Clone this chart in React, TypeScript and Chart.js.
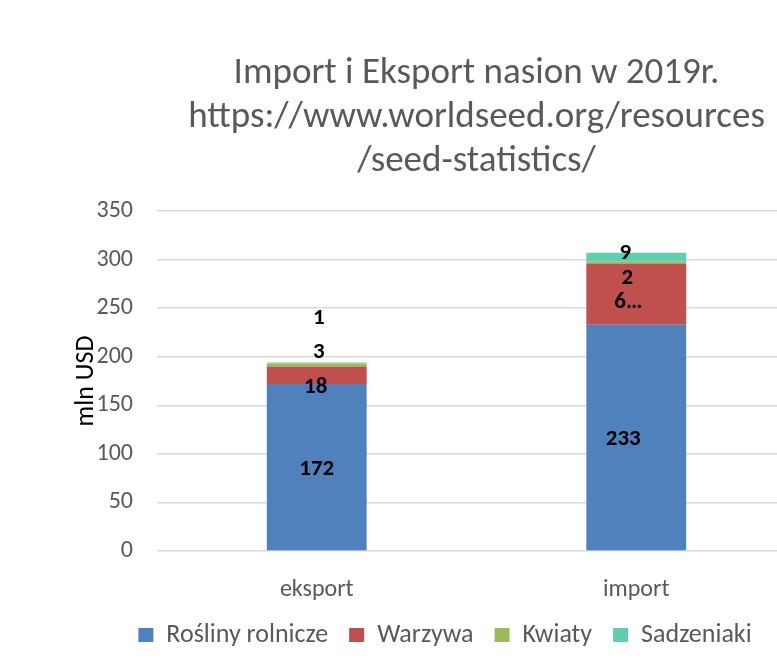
import React, { useEffect, useRef } from 'react';
import { Chart, registerables } from 'chart.js';
Chart.register(...registerables);

const categories = ['eksport', 'import'];
const seriesNames = ['Rośliny rolnicze', 'Warzywa', 'Kwiaty', 'Sadzeniaki'];
const roslinyRolnicze = [172, 233];
const warzywa = [18, 63];
const kwiaty = [3, 2];
const sadzeniaki = [1, 9];
const roslinyLabels = ['172', '233'];
const warzywaLabels = ['18', '6…'];
const kwiatyLabels = ['3', '2'];
const sadzeniakiLabels = ['1', '9'];
const yMin = 0;
const yMax = 350;
const yStep = 50;
const titleLines = ['Import i Eksport nasion w 2019r.', 'https://www.worldseed.org/resources', '/seed-statistics/'];
const yAxisTitle = 'mln USD';

// style
const FONT = 'Carlito, Lato, sans-serif';
const colors = ['#4F81BD', '#C0504D', '#9BBB59', '#5CCFB0'];
// label nudges (px) per series, per category
const labelNudges = [
  [{ dx: 0, dy: 2 }, { dx: -13, dy: 2 }],
  [{ dx: -1, dy: 12 }, { dx: -8, dy: 8 }],
  [{ dx: 2, dy: -13 }, { dx: -9, dy: 16 }],
  [{ dx: 2, dy: -45 }, { dx: -11, dy: -4 }],
];

export default function App() {
  const ref = useRef<HTMLCanvasElement | null>(null);
  useEffect(() => {
    if (!ref.current) return;
    const values = [roslinyRolnicze, warzywa, kwiaty, sadzeniaki];
    const texts = [roslinyLabels, warzywaLabels, kwiatyLabels, sadzeniakiLabels];
    const decor = {
      id: 'decor',
      afterDatasetsDraw(chart: any) {
        const ctx = chart.ctx;
        ctx.save();
        ctx.font = `bold 23px ${FONT}`;
        ctx.fillStyle = '#000';
        ctx.textAlign = 'center';
        ctx.textBaseline = 'middle';
        chart.data.datasets.forEach((_: any, i: number) => {
          const meta = chart.getDatasetMeta(i);
          meta.data.forEach((el: any, j: number) => {
            const p = el.getProps(['x', 'y', 'base'], true);
            const n = labelNudges[i][j];
            ctx.fillText(texts[i][j], p.x + n.dx, (p.y + p.base) / 2 + n.dy);
          });
        });
        ctx.restore();
      },
      afterDraw(chart: any) {
        const ctx = chart.ctx;
        const a = chart.chartArea;
        ctx.save();
        ctx.fillStyle = '#595959';
        ctx.font = `37px ${FONT}`;
        ctx.textAlign = 'center';
        ctx.textBaseline = 'middle';
        const cx = (a.left + a.right) / 2;
        titleLines.forEach((t, k) => ctx.fillText(t, cx, 74 + k * 44));
        ctx.translate(86, (a.top + a.bottom) / 2);
        ctx.rotate(-Math.PI / 2);
        ctx.fillStyle = '#000';
        ctx.font = `26px ${FONT}`;
        ctx.fillText(yAxisTitle, 0, 0);
        ctx.restore();
      },
    };
    const chart = new Chart(ref.current, {
      type: 'bar',
      data: {
        labels: categories,
        datasets: values.map((v, i) => ({
          label: seriesNames[i],
          data: v,
          backgroundColor: colors[i],
          borderWidth: 0,
          categoryPercentage: 1,
          barPercentage: 0.3125,
        })),
      },
      options: {
        responsive: false,
        animation: false,
        layout: { padding: { left: 94, right: 104, top: 211, bottom: 0 } },
        plugins: {
          title: { display: false },
          tooltip: { enabled: false },
          legend: {
            position: 'bottom',
            labels: {
              boxWidth: 15,
              boxHeight: 14,
              padding: 21,
              color: '#595959',
              font: { family: FONT, size: 26 },
            },
          },
        },
        scales: {
          x: {
            stacked: true,
            grid: { display: false },
            border: { display: false },
            ticks: { color: '#595959', font: { family: FONT, size: 24 }, padding: 17 },
            afterFit(s: any) { s.height = 50; },
          },
          y: {
            stacked: true,
            min: yMin,
            max: yMax,
            ticks: { stepSize: yStep, color: '#595959', font: { family: FONT, size: 24 }, padding: 24 },
            grid: { color: '#d9d9d9', lineWidth: 1.5, drawTicks: false },
            border: { display: false },
            afterFit(s: any) { s.width = 63; },
          },
        },
      },
      plugins: [decor],
    });
    return () => chart.destroy();
  }, []);
  return (
    <div style={{ position: 'absolute', left: 0, top: 0, width: 777, height: 658, overflow: 'hidden', background: '#fff' }}>
      <canvas ref={ref} width={900} height={658} style={{ width: 900, height: 658, display: 'block' }} />
    </div>
  );
}
